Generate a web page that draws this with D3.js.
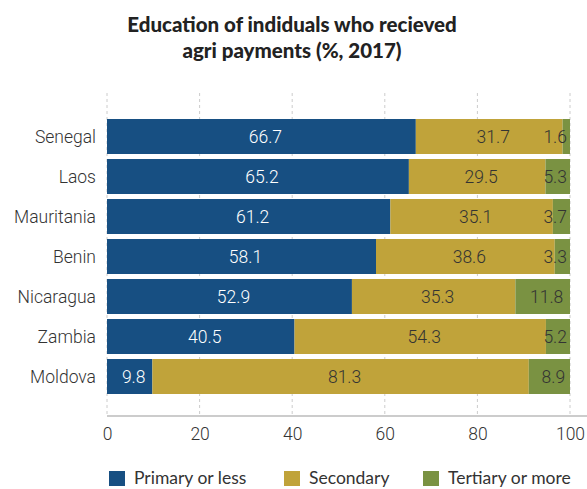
<!DOCTYPE html>
<html>
<head>
<meta charset="utf-8">
<script src="https://cdn.jsdelivr.net/npm/d3@7"></script>
<style>
  body { margin: 0; background: #fff; }
  text { font-family: Roboto, "Noto Sans", sans-serif; }
</style>
</head>
<body>
<svg id="chart"></svg>
<script>
const countries = ['Senegal', 'Laos', 'Mauritania', 'Benin', 'Nicaragua', 'Zambia', 'Moldova'];
const primary = [66.7, 65.2, 61.2, 58.1, 52.9, 40.5, 9.8];
const secondary = [31.7, 29.5, 35.1, 38.6, 35.3, 54.3, 81.3];
const tertiary = [1.6, 5.3, 3.7, 3.3, 11.8, 5.2, 8.9];
const seriesNames = ['Primary or less', 'Secondary', 'Tertiary or more'];
const xTicks = [0, 20, 40, 60, 80, 100];

const colors = ['#174f82', '#c0a33a', '#7a9242'];
const labelColors = ['#ffffff', '#333333', '#333333'];

const width = 587, height = 489;
const svg = d3.select('#chart').attr('width', width).attr('height', height);

const rows = countries.map((c, i) => ({ country: c, p: primary[i], s: secondary[i], t: tertiary[i] }));
const stack = d3.stack().keys(['p', 's', 't'])(rows);

const x = d3.scaleLinear().domain([0, 100]).range([107, 570]);
const y = d3.scaleBand().domain(countries).range([116.5, 396.5])
    .paddingInner(0.125).paddingOuter(0.0625);

// title
const title = svg.append('text')
    .attr('text-anchor', 'middle')
    .style('font-family', 'Lato, sans-serif')
    .style('font-weight', '900')
    .style('font-size', '20.5px')
    .attr('fill', '#222');
title.append('tspan').attr('x', 292).attr('y', 32).text('Education of indiduals who recieved');
title.append('tspan').attr('x', 292).attr('y', 58).text('agri payments (%, 2017)');

// gridlines
svg.append('g').selectAll('line')
    .data(xTicks)
    .join('line')
    .attr('x1', d => x(d)).attr('x2', d => x(d))
    .attr('y1', 93).attr('y2', 415)
    .attr('stroke', '#cccccc')
    .attr('stroke-dasharray', '3,3');

// bars
const groups = svg.append('g').selectAll('g')
    .data(stack)
    .join('g')
    .attr('fill', (d, i) => colors[i]);

groups.selectAll('rect')
    .data(d => d)
    .join('rect')
    .attr('x', d => x(d[0]))
    .attr('y', d => y(d.data.country))
    .attr('width', d => x(d[1]) - x(d[0]))
    .attr('height', y.bandwidth());

// value labels, kept inside the right edge for thin segments
svg.append('g').selectAll('g')
    .data(stack)
    .join('g')
    .attr('fill', (d, i) => labelColors[i])
    .selectAll('text')
    .data(d => d)
    .join('text')
    .attr('y', d => y(d.data.country) + y.bandwidth() / 2)
    .attr('dy', '0.35em')
    .attr('text-anchor', 'middle')
    .style('font-size', '17.5px')
    .style('font-weight', '300')
    .text(d => (d[1] - d[0]).toFixed(1))
    .attr('x', function(d) {
        const half = this.getComputedTextLength() / 2;
        const mid = (x(d[0]) + x(d[1])) / 2 + 4;
        return Math.min(mid, x(100) - 3 - half);
    });

// category labels
svg.append('g').selectAll('text')
    .data(countries)
    .join('text')
    .attr('x', 96)
    .attr('y', d => y(d) + y.bandwidth() / 2)
    .attr('dy', '0.35em')
    .attr('text-anchor', 'end')
    .attr('fill', '#333')
    .style('font-size', '17.5px')
    .style('font-weight', '300')
    .text(d => d);

// x axis
const xAxis = svg.append('g')
    .attr('transform', 'translate(0, 416)')
    .call(d3.axisBottom(x).tickValues(xTicks).tickSize(0).tickPadding(12));
xAxis.select('.domain').remove();
xAxis.selectAll('text')
    .attr('fill', '#333')
    .style('font-family', 'Roboto, sans-serif')
    .style('font-weight', '300')
    .style('font-size', '17.5px');
svg.append('line')
    .attr('x1', 107).attr('x2', 587)
    .attr('y1', 416).attr('y2', 416)
    .attr('stroke', '#cccccc')
    .attr('stroke-width', 2);

// legend
const legendX = [109, 284, 423];
const legend = svg.append('g').selectAll('g')
    .data(seriesNames)
    .join('g')
    .attr('transform', (d, i) => `translate(${legendX[i]}, 471)`);
legend.append('rect')
    .attr('width', 16).attr('height', 15)
    .attr('fill', (d, i) => colors[i]);
legend.append('text')
    .attr('x', 25)
    .attr('y', 7)
    .attr('dy', '0.35em')
    .attr('fill', '#333')
    .style('font-family', 'Lato, sans-serif')
    .style('font-size', '17.5px')
    .text(d => d);
</script>
</body>
</html>
